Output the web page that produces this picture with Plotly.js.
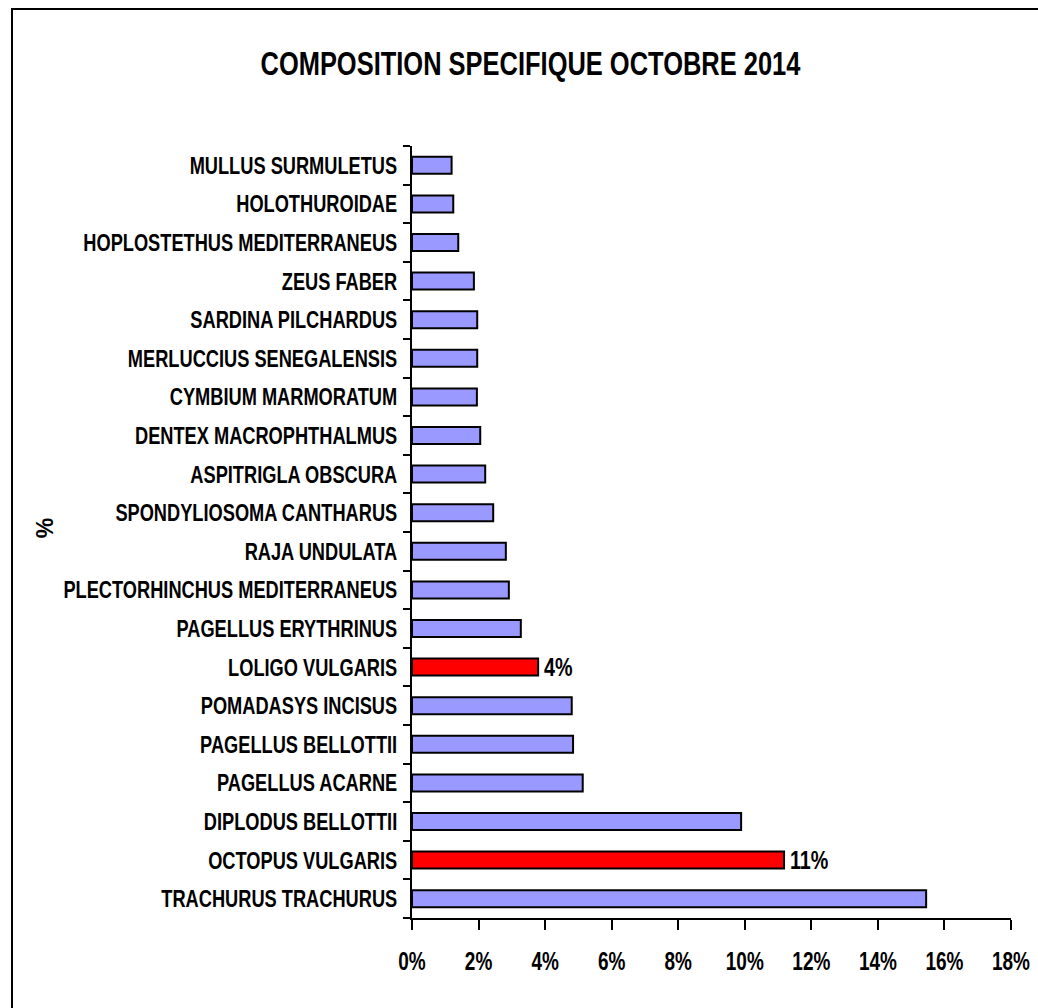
<!DOCTYPE html>
<html>
<head>
<meta charset="utf-8">
<script src="https://cdn.plot.ly/plotly-3.0.1.min.js"></script>
<style>
  html, body { margin: 0; padding: 0; background: #fff; }
  #wrap { position: relative; width: 1038px; height: 1008px; }
  #chart { width: 1038px; height: 1008px; }
  #frame { position: absolute; left: 11px; top: 8px; width: 1040px; height: 1010px;
           border: 2px solid #000; box-sizing: border-box; pointer-events: none; }
</style>
</head>
<body>
<div id="wrap">
  <div id="chart"></div>
  <div id="frame"></div>
</div>
<script>
// Species, listed from bottom bar to top bar
const species = [
  "TRACHURUS TRACHURUS",
  "OCTOPUS VULGARIS",
  "DIPLODUS BELLOTTII",
  "PAGELLUS ACARNE",
  "PAGELLUS BELLOTTII",
  "POMADASYS INCISUS",
  "LOLIGO VULGARIS",
  "PAGELLUS ERYTHRINUS",
  "PLECTORHINCHUS MEDITERRANEUS",
  "RAJA UNDULATA",
  "SPONDYLIOSOMA CANTHARUS",
  "ASPITRIGLA OBSCURA",
  "DENTEX MACROPHTHALMUS",
  "CYMBIUM MARMORATUM",
  "MERLUCCIUS SENEGALENSIS",
  "SARDINA PILCHARDUS",
  "ZEUS FABER",
  "HOPLOSTETHUS MEDITERRANEUS",
  "HOLOTHUROIDAE",
  "MULLUS SURMULETUS"
];
// Share of catch (%)
const percents = [
  15.45, 11.18, 9.89, 5.13, 4.84, 4.80, 3.79, 3.27, 2.91, 2.82,
  2.44, 2.20, 2.05, 1.95, 1.96, 1.96, 1.86, 1.39, 1.24, 1.19
];
// Highlighted species (red bars with value labels)
const highlighted = ["OCTOPUS VULGARIS", "LOLIGO VULGARIS"];
const xTickValues = [0, 2, 4, 6, 8, 10, 12, 14, 16, 18];
const xTickLabels = ["0%", "2%", "4%", "6%", "8%", "10%", "12%", "14%", "16%", "18%"];

const FAMILY = "'Liberation Sans', Arial, sans-serif";
const NARROW = 0.76; // horizontal compression to mimic a narrow bold face
const BLUE = "#9999FF";
const RED = "#FF0000";

const colors = species.map(s => highlighted.includes(s) ? RED : BLUE);
const labels = species.map((s, i) => highlighted.includes(s) ? Math.round(percents[i]) + "%" : "");

function f(size) {
  return { family: FAMILY, size: size, color: "#000", weight: "bold" };
}

const trace = {
  type: "bar",
  orientation: "h",
  y: species,
  x: percents,
  marker: { color: colors, line: { color: "#000", width: 2 } },
  text: labels,
  textposition: "outside",
  constraintext: "none",
  cliponaxis: false,
  textfont: f(26),
  hoverinfo: "none"
};

const layout = {
  width: 1038,
  height: 1008,
  margin: { l: 412, r: 27, t: 146, b: 90, pad: 0 },
  paper_bgcolor: "#fff",
  plot_bgcolor: "#fff",
  showlegend: false,
  bargap: 0.56,
  font: f(24),
  title: {
    text: "COMPOSITION SPECIFIQUE OCTOBRE 2014",
    font: f(33.5),
    xref: "container", x: 0.511, xanchor: "center",
    yref: "container", y: 0.937, yanchor: "middle"
  },
  xaxis: {
    range: [0, 18],
    tickvals: xTickValues,
    ticktext: xTickLabels,
    showline: true, linecolor: "#000", linewidth: 2,
    ticks: "outside", ticklen: 10, tickwidth: 2, tickcolor: "#000",
    ticklabelstandoff: 10,
    showgrid: false, zeroline: false,
    tickfont: f(25),
    fixedrange: true
  },
  yaxis: {
    type: "category",
    tickson: "boundaries",
    showline: true, linecolor: "#000", linewidth: 2,
    ticks: "outside", ticklen: 7, tickwidth: 2, tickcolor: "#000",
    ticklabelstandoff: 8,
    showgrid: false, zeroline: false,
    tickfont: f(24),
    fixedrange: true
  },
  annotations: [{
    text: "%",
    xref: "paper", yref: "paper",
    x: -0.6127, y: 0.505, xanchor: "center", yanchor: "middle",
    textangle: -90, showarrow: false,
    font: f(23)
  }]
};

// Compress text horizontally about its anchor so it looks like a narrow face
function narrowText(gd) {
  const nodes = gd.querySelectorAll(".xtick text, .ytick text, .gtitle, .bartext");
  nodes.forEach(el => {
    if (el.dataset.narrowed) return;
    const bb = el.getBBox();
    const anchor = el.getAttribute("text-anchor");
    let p;
    if (el.classList.contains("bartext")) p = bb.x + 12;
    else if (anchor === "end") p = bb.x + bb.width;
    else if (anchor === "start") p = bb.x;
    else p = bb.x + bb.width / 2;
    const t = el.getAttribute("transform") || "";
    el.setAttribute("transform",
      (t + " translate(" + p + ",0) scale(" + NARROW + ",1) translate(" + (-p) + ",0)").trim());
    el.dataset.narrowed = "1";
  });
}

Plotly.newPlot("chart", [trace], layout, { displayModeBar: false, staticPlot: true })
  .then(gd => narrowText(gd));
</script>
</body>
</html>
